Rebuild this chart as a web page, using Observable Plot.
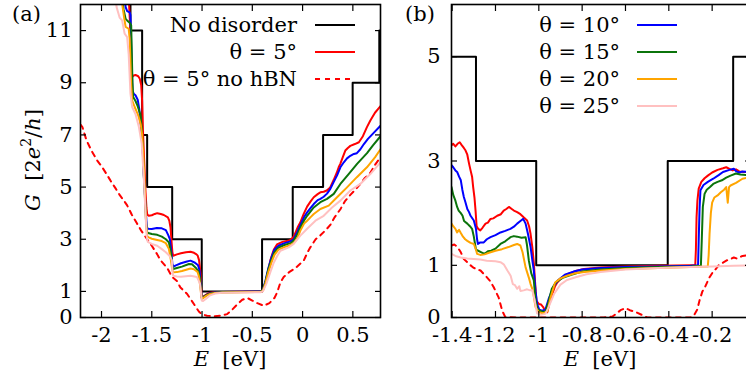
<!DOCTYPE html>
<html><head><meta charset="utf-8">
<script src="https://cdn.jsdelivr.net/npm/d3@7"></script>
<script src="https://cdn.jsdelivr.net/npm/@observablehq/plot@0.6"></script>
<style>
body{margin:0;background:#fff;overflow:hidden}
#wrap{position:relative;width:746px;height:377px;overflow:hidden;font-family:"DejaVu Serif","Liberation Serif",serif;color:#000}
.abs{position:absolute;white-space:nowrap;line-height:24px;font-size:21px}
#wrap svg{position:absolute;top:0}
</style></head><body><div id="wrap"></div>
<script>
// ---------- tick values ----------
const A_xTicks = [-2, -1.5, -1, -0.5, 0, 0.5];
const A_yTicks = [0, 1, 3, 5, 7, 9, 11];
const B_xTicks = [-1.4, -1.2, -1, -0.8, -0.6, -0.4, -0.2];
const B_yTicks = [0, 1, 3, 5];

// ---------- panel (a) data: [E (eV), G (2e^2/h)] ----------
const A_clean_E = [-1.712, -1.712, -1.596, -1.546, -1.297, -1.003, -0.403, -0.098, 0.204, 0.498, 0.763, 0.9];
const A_clean_G = [14, 11, 7, 5, 3, 1, 3, 5, 7, 9, 11, 11];

const A_t5 = [[-1.728,12.2],[-1.712,10.9],[-1.705,9.6],[-1.695,9.22],[-1.68,9.28],[-1.662,9.3],[-1.635,9.25],[-1.619,9.15],[-1.605,8.9],[-1.596,8.3],[-1.588,7.2],[-1.58,6.4],[-1.57,5.5],[-1.562,4.8],[-1.553,4.2],[-1.545,3.95],[-1.53,3.9],[-1.5,3.92],[-1.47,3.97],[-1.446,4.0],[-1.41,3.97],[-1.38,3.93],[-1.34,3.84],[-1.325,3.7],[-1.314,3.46],[-1.305,3.0],[-1.295,2.5],[-1.287,2.37],[-1.25,2.42],[-1.21,2.46],[-1.16,2.5],[-1.115,2.52],[-1.08,2.48],[-1.055,2.42],[-1.043,2.37],[-1.03,2.2],[-1.015,1.7],[-1.009,1.15],[-1.003,0.78],[-0.99,0.8],[-0.97,0.85],[-0.95,0.9],[-0.92,0.95],[-0.88,0.97],[-0.8,0.98],[-0.6,0.99],[-0.45,1.0],[-0.403,1.0],[-0.38,1.2],[-0.353,1.6],[-0.32,2.2],[-0.287,2.6],[-0.255,2.8],[-0.2,2.9],[-0.138,2.95],[-0.121,2.97],[-0.088,3.1],[-0.05,3.45],[-0.022,3.65],[0.011,3.97],[0.045,4.25],[0.08,4.45],[0.111,4.61],[0.15,4.73],[0.177,4.8],[0.21,4.82],[0.24,4.87],[0.26,4.93],[0.276,5.0],[0.31,5.28],[0.34,5.55],[0.359,5.76],[0.376,5.9],[0.4,6.15],[0.425,6.4],[0.45,6.5],[0.475,6.58],[0.52,6.65],[0.56,6.72],[0.6,6.95],[0.64,7.3],[0.674,7.55],[0.72,7.85],[0.775,8.1]];
const A_t5noBN = [[-2.209,7.4],[-2.19,7.3],[-2.15,6.8],[-2.1,6.4],[-2.043,6.02],[-2.0,5.8],[-1.95,5.5],[-1.911,5.25],[-1.86,4.95],[-1.82,4.7],[-1.778,4.48],[-1.745,4.3],[-1.7,3.95],[-1.645,3.59],[-1.6,3.3],[-1.546,3.0],[-1.5,2.75],[-1.447,2.43],[-1.414,2.2],[-1.347,1.9],[-1.297,1.55],[-1.25,1.4],[-1.215,1.15],[-1.148,0.9],[-1.115,0.71],[-1.07,0.45],[-1.03,0.22],[-1.0,0.12],[-0.95,0.07],[-0.88,0.05],[-0.8,0.08],[-0.75,0.13],[-0.7,0.3],[-0.65,0.5],[-0.6,0.68],[-0.55,0.75],[-0.5,0.65],[-0.45,0.55],[-0.387,0.45],[-0.33,0.55],[-0.28,0.75],[-0.254,0.95],[-0.22,1.35],[-0.188,1.55],[-0.13,1.75],[-0.07,1.9],[0.011,2.18],[0.05,2.5],[0.077,2.69],[0.13,3.0],[0.177,3.15],[0.23,3.35],[0.276,3.55],[0.32,3.85],[0.376,4.15],[0.42,4.45],[0.475,4.7],[0.52,4.88],[0.574,5.12],[0.62,5.35],[0.674,5.55],[0.72,5.85],[0.775,6.15]];
const A_t10 = [[-1.77,12.2],[-1.76,11.9],[-1.745,11.75],[-1.72,11.7],[-1.712,11.6],[-1.705,10.5],[-1.698,9.5],[-1.692,8.7],[-1.68,8.58],[-1.662,8.52],[-1.64,8.35],[-1.625,8.0],[-1.612,7.5],[-1.6,7.0],[-1.59,6.4],[-1.58,5.5],[-1.568,4.7],[-1.558,4.0],[-1.55,3.5],[-1.54,3.4],[-1.5,3.39],[-1.45,3.43],[-1.4,3.42],[-1.36,3.35],[-1.335,3.15],[-1.32,3.0],[-1.305,2.5],[-1.295,2.05],[-1.285,1.95],[-1.26,2.0],[-1.21,2.08],[-1.15,2.15],[-1.115,2.18],[-1.07,2.1],[-1.04,2.0],[-1.025,1.8],[-1.012,1.2],[-1.005,0.78],[-0.99,0.78],[-0.96,0.85],[-0.93,0.92],[-0.88,0.96],[-0.8,0.98],[-0.6,0.99],[-0.42,1.0],[-0.395,1.05],[-0.37,1.4],[-0.34,1.9],[-0.31,2.3],[-0.28,2.6],[-0.24,2.75],[-0.18,2.85],[-0.12,2.92],[-0.088,3.0],[-0.05,3.3],[-0.022,3.55],[0.015,3.85],[0.045,4.03],[0.08,4.2],[0.111,4.35],[0.15,4.5],[0.177,4.55],[0.21,4.63],[0.243,4.75],[0.276,4.93],[0.31,5.2],[0.343,5.45],[0.376,5.76],[0.41,5.95],[0.442,6.1],[0.475,6.2],[0.51,6.27],[0.54,6.3],[0.575,6.45],[0.61,6.65],[0.65,6.85],[0.7,7.05],[0.775,7.35]];
const A_t15 = [[-1.795,12.2],[-1.78,11.8],[-1.76,11.45],[-1.745,11.39],[-1.72,11.3],[-1.705,11.2],[-1.698,10.0],[-1.692,9.0],[-1.685,8.45],[-1.662,8.3],[-1.64,8.1],[-1.615,7.8],[-1.6,7.3],[-1.59,6.5],[-1.58,5.5],[-1.568,4.6],[-1.556,3.6],[-1.545,3.25],[-1.5,3.2],[-1.446,3.17],[-1.4,3.1],[-1.36,3.0],[-1.33,2.88],[-1.31,2.5],[-1.297,2.0],[-1.287,1.86],[-1.25,1.9],[-1.2,1.95],[-1.13,2.05],[-1.1,2.04],[-1.06,1.9],[-1.035,1.76],[-1.02,1.5],[-1.01,1.0],[-1.003,0.75],[-0.99,0.76],[-0.96,0.85],[-0.93,0.9],[-0.88,0.95],[-0.8,0.97],[-0.6,0.98],[-0.42,0.99],[-0.395,1.05],[-0.37,1.35],[-0.34,1.85],[-0.31,2.2],[-0.28,2.5],[-0.24,2.68],[-0.18,2.78],[-0.12,2.85],[-0.088,2.95],[-0.05,3.2],[-0.022,3.45],[0.015,3.72],[0.045,3.9],[0.111,4.22],[0.177,4.42],[0.243,4.55],[0.31,4.74],[0.376,5.12],[0.458,5.5],[0.542,5.89],[0.641,6.3],[0.7,6.6],[0.775,6.95]];
const A_t20 = [[-1.8,12.2],[-1.79,11.9],[-1.775,11.5],[-1.76,11.14],[-1.73,11.07],[-1.72,10.7],[-1.712,9.8],[-1.705,8.9],[-1.695,8.32],[-1.67,8.07],[-1.635,7.75],[-1.61,7.4],[-1.596,7.0],[-1.585,6.3],[-1.575,5.5],[-1.565,4.5],[-1.555,3.5],[-1.545,3.1],[-1.53,3.07],[-1.5,3.02],[-1.446,2.97],[-1.4,2.93],[-1.36,2.85],[-1.33,2.63],[-1.31,2.2],[-1.297,1.85],[-1.287,1.73],[-1.25,1.74],[-1.2,1.78],[-1.115,1.88],[-1.08,1.85],[-1.045,1.75],[-1.03,1.56],[-1.015,1.1],[-1.004,0.72],[-0.99,0.74],[-0.96,0.83],[-0.92,0.9],[-0.87,0.94],[-0.8,0.96],[-0.6,0.97],[-0.42,0.98],[-0.395,1.02],[-0.37,1.3],[-0.34,1.75],[-0.31,2.1],[-0.28,2.4],[-0.24,2.6],[-0.18,2.7],[-0.12,2.78],[-0.088,2.85],[-0.05,3.05],[-0.022,3.33],[0.015,3.6],[0.045,3.71],[0.08,3.85],[0.111,3.97],[0.177,4.16],[0.26,4.29],[0.343,4.61],[0.442,4.99],[0.54,5.38],[0.64,5.76],[0.72,6.14],[0.775,6.45]];
const A_t25 = [[-1.86,12.2],[-1.85,11.9],[-1.82,11.5],[-1.795,11.39],[-1.77,10.88],[-1.745,10.75],[-1.73,10.1],[-1.712,8.58],[-1.695,8.07],[-1.662,7.8],[-1.628,7.3],[-1.6,6.66],[-1.59,6.0],[-1.58,5.4],[-1.57,4.6],[-1.56,3.8],[-1.55,3.1],[-1.54,2.9],[-1.5,2.82],[-1.446,2.75],[-1.4,2.62],[-1.36,2.5],[-1.32,2.35],[-1.3,2.2],[-1.295,1.8],[-1.287,1.6],[-1.25,1.57],[-1.21,1.56],[-1.115,1.6],[-1.05,1.55],[-1.02,1.3],[-1.01,0.9],[-1.003,0.65],[-0.99,0.63],[-0.96,0.72],[-0.92,0.85],[-0.87,0.92],[-0.8,0.95],[-0.6,0.96],[-0.42,0.97],[-0.395,1.0],[-0.36,1.3],[-0.32,1.75],[-0.287,2.1],[-0.254,2.35],[-0.221,2.56],[-0.138,2.69],[-0.088,2.82],[-0.022,3.14],[0.045,3.4],[0.128,3.71],[0.21,3.9],[0.293,4.22],[0.376,4.48],[0.475,4.87],[0.574,5.12],[0.674,5.5],[0.775,5.95]];

// ---------- panel (b) data ----------
const B_clean_E = [-1.45, -1.29, -1.012, -0.405, -0.103, 0.0];
const B_clean_G = [5, 3, 1, 3, 5, 5];

const B_t5 = [[-1.403,3.3],[-1.395,3.33],[-1.385,3.28],[-1.375,3.33],[-1.365,3.36],[-1.355,3.3],[-1.346,3.25],[-1.338,3.2],[-1.33,3.12],[-1.322,2.95],[-1.315,2.82],[-1.308,2.7],[-1.303,2.5],[-1.297,2.3],[-1.292,2.05],[-1.287,1.75],[-1.28,1.7],[-1.27,1.67],[-1.26,1.72],[-1.246,1.8],[-1.235,1.82],[-1.223,1.89],[-1.21,1.9],[-1.192,1.95],[-1.175,1.98],[-1.162,2.05],[-1.15,2.08],[-1.138,2.12],[-1.125,2.08],[-1.115,2.05],[-1.1,2.02],[-1.085,1.98],[-1.07,1.92],[-1.054,1.86],[-1.045,1.75],[-1.038,1.6],[-1.03,1.35],[-1.023,1.05],[-1.016,0.6],[-1.011,0.32],[-1.0,0.26],[-0.99,0.25],[-0.98,0.2],[-0.97,0.12],[-0.961,0.1],[-0.95,0.3],[-0.938,0.45],[-0.925,0.6],[-0.915,0.67],[-0.895,0.76],[-0.869,0.83],[-0.83,0.89],[-0.792,0.93],[-0.715,0.96],[-0.6,0.98],[-0.45,0.99],[-0.3,1.0],[-0.278,1.0],[-0.275,1.3],[-0.272,1.92],[-0.268,2.24],[-0.262,2.47],[-0.25,2.6],[-0.235,2.67],[-0.22,2.72],[-0.2,2.78],[-0.175,2.83],[-0.15,2.86],[-0.135,2.88],[-0.12,2.85],[-0.105,2.82],[-0.09,2.84],[-0.075,2.8],[-0.055,2.79],[-0.02,2.78]];
const B_t5noBN = [[-1.403,1.38],[-1.39,1.4],[-1.375,1.35],[-1.36,1.25],[-1.346,1.12],[-1.33,1.06],[-1.315,1.0],[-1.3,0.95],[-1.269,0.9],[-1.246,0.8],[-1.225,0.7],[-1.208,0.58],[-1.185,0.38],[-1.169,0.13],[-1.155,0.01],[-1.1,0],[-0.9,0],[-0.7,0],[-0.66,0.02],[-0.64,0.08],[-0.623,0.14],[-0.6,0.18],[-0.58,0.14],[-0.55,0.1],[-0.52,0.04],[-0.5,0],[-0.3,0],[-0.283,0.05],[-0.269,0.15],[-0.258,0.33],[-0.245,0.5],[-0.231,0.6],[-0.215,0.75],[-0.2,0.85],[-0.185,0.92],[-0.17,1.0],[-0.15,1.05],[-0.13,1.1],[-0.115,1.12],[-0.1,1.15],[-0.085,1.13],[-0.06,1.18],[-0.02,1.2]];
const B_t10 = [[-1.403,2.92],[-1.395,2.88],[-1.385,2.82],[-1.377,2.79],[-1.368,2.7],[-1.36,2.63],[-1.353,2.45],[-1.346,2.31],[-1.338,2.2],[-1.33,2.08],[-1.322,2.02],[-1.315,1.95],[-1.3,1.86],[-1.29,1.7],[-1.285,1.5],[-1.281,1.41],[-1.27,1.44],[-1.254,1.44],[-1.24,1.5],[-1.223,1.54],[-1.2,1.58],[-1.177,1.63],[-1.155,1.66],[-1.131,1.7],[-1.115,1.74],[-1.1,1.8],[-1.085,1.85],[-1.072,1.89],[-1.061,1.8],[-1.05,1.6],[-1.038,1.35],[-1.03,1.1],[-1.023,0.9],[-1.015,0.5],[-1.008,0.26],[-0.998,0.15],[-0.985,0.13],[-0.97,0.15],[-0.955,0.35],[-0.931,0.6],[-0.91,0.72],[-0.88,0.82],[-0.84,0.88],[-0.8,0.92],[-0.715,0.95],[-0.6,0.97],[-0.45,0.98],[-0.3,0.99],[-0.265,1.0],[-0.262,1.5],[-0.258,2.1],[-0.254,2.44],[-0.24,2.54],[-0.22,2.6],[-0.195,2.66],[-0.17,2.73],[-0.15,2.79],[-0.12,2.83],[-0.1,2.85],[-0.088,2.8],[-0.075,2.78],[-0.06,2.8],[-0.02,2.78]];
const B_t15 = [[-1.403,2.5],[-1.395,2.35],[-1.385,2.24],[-1.377,2.12],[-1.37,2.05],[-1.36,2.0],[-1.352,1.95],[-1.345,1.85],[-1.33,1.8],[-1.318,1.75],[-1.308,1.7],[-1.3,1.55],[-1.29,1.3],[-1.28,1.28],[-1.265,1.25],[-1.25,1.22],[-1.235,1.27],[-1.22,1.28],[-1.2,1.32],[-1.177,1.41],[-1.155,1.46],[-1.131,1.54],[-1.115,1.56],[-1.1,1.55],[-1.08,1.53],[-1.061,1.54],[-1.055,1.4],[-1.046,1.09],[-1.035,0.85],[-1.023,0.71],[-1.015,0.32],[-1.005,0.15],[-0.99,0.12],[-0.97,0.1],[-0.955,0.3],[-0.94,0.55],[-0.92,0.68],[-0.89,0.76],[-0.85,0.82],[-0.8,0.88],[-0.715,0.92],[-0.6,0.95],[-0.45,0.97],[-0.3,0.98],[-0.252,0.99],[-0.248,1.47],[-0.243,2.12],[-0.235,2.37],[-0.225,2.45],[-0.21,2.5],[-0.195,2.56],[-0.175,2.6],[-0.155,2.63],[-0.135,2.68],[-0.115,2.72],[-0.09,2.76],[-0.07,2.74],[-0.02,2.72]];
const B_t20 = [[-1.403,1.8],[-1.395,1.75],[-1.385,1.7],[-1.377,1.63],[-1.368,1.68],[-1.36,1.62],[-1.35,1.55],[-1.34,1.5],[-1.33,1.47],[-1.315,1.43],[-1.3,1.41],[-1.29,1.3],[-1.285,1.22],[-1.27,1.2],[-1.25,1.21],[-1.23,1.24],[-1.2,1.28],[-1.17,1.31],[-1.14,1.35],[-1.115,1.39],[-1.1,1.41],[-1.085,1.38],[-1.075,1.25],[-1.061,0.96],[-1.045,0.75],[-1.038,0.64],[-1.03,0.55],[-1.025,0.45],[-1.015,0.2],[-1.0,0.1],[-0.98,0.08],[-0.96,0.12],[-0.946,0.38],[-0.925,0.67],[-0.9,0.75],[-0.87,0.8],[-0.83,0.85],[-0.79,0.87],[-0.715,0.9],[-0.6,0.93],[-0.45,0.95],[-0.3,0.97],[-0.22,0.98],[-0.216,1.2],[-0.212,1.6],[-0.206,2.0],[-0.2,2.2],[-0.19,2.3],[-0.175,2.34],[-0.16,2.4],[-0.145,2.45],[-0.135,2.5],[-0.128,2.2],[-0.122,2.5],[-0.115,2.53],[-0.09,2.58],[-0.06,2.66],[-0.02,2.69]];
const B_t25 = [[-1.403,1.22],[-1.385,1.18],[-1.361,1.15],[-1.33,1.13],[-1.3,1.12],[-1.27,1.11],[-1.24,1.09],[-1.2,1.08],[-1.177,1.06],[-1.162,1.02],[-1.145,0.9],[-1.13,0.8],[-1.12,0.64],[-1.11,0.62],[-1.1,0.55],[-1.09,0.6],[-1.085,0.51],[-1.07,0.52],[-1.054,0.54],[-1.04,0.52],[-1.03,0.52],[-1.02,0.35],[-1.008,0.08],[-0.99,0.05],[-0.97,0.07],[-0.955,0.2],[-0.93,0.45],[-0.9,0.63],[-0.87,0.72],[-0.83,0.77],[-0.78,0.83],[-0.715,0.87],[-0.6,0.92],[-0.45,0.95],[-0.3,0.97],[-0.2,0.98],[-0.1,0.99],[-0.02,1.0]];

// ---------- styling ----------
const FONT = '"DejaVu Serif", "Liberation Serif", serif';
const C = {clean:"#000000", t5:"#ff0000", t10:"#0000ff", t15:"#0b740b", t20:"#ffa500", t25:"#ffc0c0"};
const LW = 2;
const FS = 21;
const fmt = d => String(d);

function panel({width, marginLeft, marginRight, xDomain, yDomain, xTicks, yTicks, cleanE, cleanG, series, yPad}) {
  const clean = cleanE.map((e, i) => [e, cleanG[i]]);
  const marks = [
    Plot.line(clean, {x: d => d[0], y: d => d[1], curve: "step-after", stroke: C.clean, strokeWidth: LW, clip: true}),
    Plot.line(series.t5, {x: d => d[0], y: d => d[1], stroke: C.t5, strokeWidth: LW, clip: true}),
    Plot.line(series.noBN, {x: d => d[0], y: d => d[1], stroke: C.t5, strokeWidth: LW, strokeDasharray: "5,5", clip: true}),
    Plot.line(series.t10, {x: d => d[0], y: d => d[1], stroke: C.t10, strokeWidth: LW, clip: true}),
    Plot.line(series.t15, {x: d => d[0], y: d => d[1], stroke: C.t15, strokeWidth: LW, clip: true}),
    Plot.line(series.t20, {x: d => d[0], y: d => d[1], stroke: C.t20, strokeWidth: LW, clip: true}),
    Plot.line(series.t25, {x: d => d[0], y: d => d[1], stroke: C.t25, strokeWidth: LW, clip: true}),
    Plot.frame({stroke: "#000", strokeWidth: 1.6}),
    Plot.axisX({ticks: xTicks, tickSize: -6, tickFormat: () => "", label: null, strokeWidth: 1.2}),
    Plot.axisX({anchor: "top", ticks: xTicks, tickSize: -6, tickFormat: () => "", label: null, strokeWidth: 1.2}),
    Plot.axisY({ticks: yTicks, tickSize: -6, tickFormat: () => "", label: null, strokeWidth: 1.2}),
    Plot.axisY({anchor: "right", ticks: yTicks, tickSize: -6, tickFormat: () => "", label: null, strokeWidth: 1.2}),
    Plot.axisX({ticks: xTicks, tickSize: 0, tickPadding: 10, tickFormat: fmt, label: null, fontSize: FS}),
    Plot.axisY({ticks: yTicks, tickSize: 0, tickPadding: yPad, tickFormat: fmt, label: null, fontSize: FS})
  ];
  return Plot.plot({
    width, height: 377, marginLeft, marginRight, marginTop: 4, marginBottom: 60,
    style: {fontFamily: FONT, fontSize: FS + "px", background: "transparent", color: "#000", overflow: "visible"},
    x: {domain: xDomain}, y: {domain: yDomain},
    marks
  });
}

const wrap = document.getElementById("wrap");
const svgA = panel({width: 382, marginLeft: 80, marginRight: 2, xDomain: [-2.209, 0.775], yDomain: [0, 12],
  xTicks: A_xTicks, yTicks: A_yTicks, cleanE: A_clean_E, cleanG: A_clean_G, yPad: 8,
  series: {t5: A_t5, noBN: A_t5noBN, t10: A_t10, t15: A_t15, t20: A_t20, t25: A_t25}});
svgA.style.left = "0px";
wrap.appendChild(svgA);
const svgB = panel({width: 370, marginLeft: 71, marginRight: 0, xDomain: [-1.403, -0.023], yDomain: [0, 6],
  xTicks: B_xTicks, yTicks: B_yTicks, cleanE: B_clean_E, cleanG: B_clean_G, yPad: 11,
  series: {t5: B_t5, noBN: B_t5noBN, t10: B_t10, t15: B_t15, t20: B_t20, t25: B_t25}});
svgB.style.left = "380px";
wrap.appendChild(svgB);

// ---------- text overlays ----------
function addText(html, css) {
  const d = document.createElement("div");
  d.className = "abs";
  d.innerHTML = html;
  Object.assign(d.style, css);
  wrap.appendChild(d);
  return d;
}
addText("(a)", {left: "12px", top: "2px"});
addText("(b)", {left: "405px", top: "2px"});
addText('<i>G</i>&nbsp;&nbsp;[2<i>e</i><sup style="font-size:14px;vertical-align:9px;line-height:0">2</sup>/<i>h</i>]',
  {left: "33px", top: "160px", transform: "translate(-50%,-50%) rotate(-90deg)"});
addText('<i>E</i>&nbsp;&nbsp;[eV]', {left: "230px", top: "347px", transform: "translateX(-50%)"});
addText('<i>E</i>&nbsp;&nbsp;[eV]', {left: "600px", top: "347px", transform: "translateX(-50%)"});

// legends
const legA = [["No disorder", C.clean, null], ["θ = 5°", C.t5, null], ["θ = 5° no hBN", C.t5, "5,5"]];
const legB = [["θ = 10°", C.t10, null], ["θ = 15°", C.t15, null], ["θ = 20°", C.t20, null], ["θ = 25°", C.t25, null]];
const legY = [25, 52, 79, 106];
function legend(items, textRight, x1, x2) {
  const ns = "http://www.w3.org/2000/svg";
  const s = document.createElementNS(ns, "svg");
  s.setAttribute("width", 746); s.setAttribute("height", 377);
  s.style.left = "0px"; s.style.pointerEvents = "none";
  items.forEach(([label, color, dash], i) => {
    addText(label, {right: (746 - textRight) + "px", top: (legY[i] - 12) + "px"});
    const l = document.createElementNS(ns, "line");
    l.setAttribute("x1", x1); l.setAttribute("x2", x2);
    l.setAttribute("y1", legY[i]); l.setAttribute("y2", legY[i]);
    l.setAttribute("stroke", color); l.setAttribute("stroke-width", LW);
    if (dash) l.setAttribute("stroke-dasharray", dash);
    s.appendChild(l);
  });
  wrap.appendChild(s);
}
legend(legA, 297, 315, 355);
legend(legB, 620, 637, 677);
</script></body></html>
